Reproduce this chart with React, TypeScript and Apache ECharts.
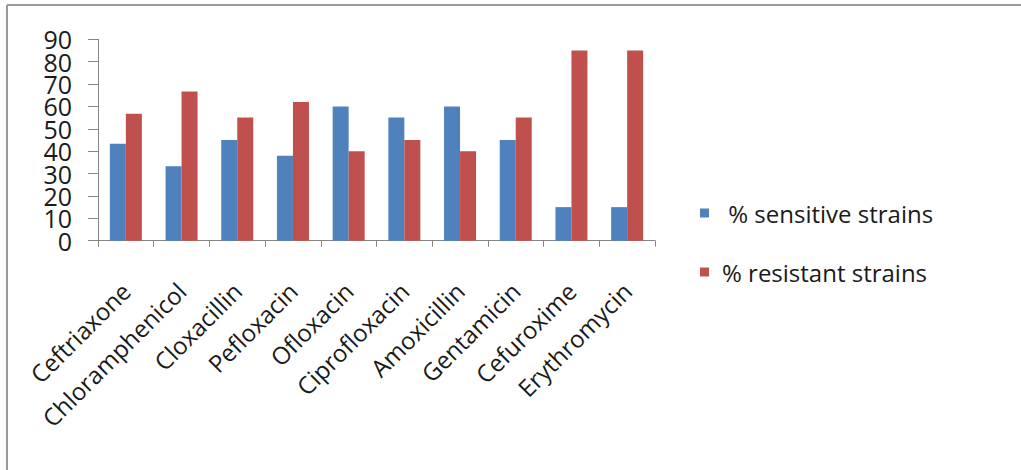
import React, { useEffect, useRef } from "react";
import * as echarts from "echarts";

const categories = [
  "Ceftriaxone",
  "Chloramphenicol",
  "Cloxacillin",
  "Pefloxacin",
  "Ofloxacin",
  "Ciprofloxacin",
  "Amoxicillin",
  "Gentamicin",
  "Cefuroxime",
  "Erythromycin",
];
const sensitive = [43.3, 33.3, 45, 38, 60, 55, 60, 45, 15, 15];
const resistant = [56.7, 66.7, 55, 62, 40, 45, 40, 55, 85, 85];
const seriesNames = ["% sensitive strains", "% resistant strains"];
const yMin = 0;
const yMax = 90;
const yStep = 10;

export default function App() {
  const ref = useRef<HTMLDivElement>(null);
  useEffect(() => {
    if (!ref.current) return;
    const chart = echarts.init(ref.current, null, { renderer: "svg" });
    const font = "Open Sans";
    const yLabelBase = {
      margin: 26,
      fontFamily: font,
      fontSize: 25,
      lineHeight: 18,
      color: "#1a1a1a",
      showMinLabel: true,
      showMaxLabel: true,
      hideOverlap: false,
    };
    const yAxisBase = {
      type: "value",
      position: "left",
      offset: 0,
      min: yMin,
      max: yMax,
      interval: yStep,
      splitLine: { show: false },
    };
    chart.setOption({
      animation: false,
      backgroundColor: "#ffffff",
      textStyle: { fontFamily: font },
      grid: { left: 98, right: 366, top: 39.3, bottom: 229.3, containLabel: false },
      legend: {
        orient: "vertical",
        left: 695,
        top: 196,
        icon: "rect",
        itemWidth: 9,
        itemHeight: 9,
        itemGap: 35,
        data: seriesNames,
        formatter: (n: string) => (n === seriesNames[0] ? " " + n : n),
        textStyle: {
          fontFamily: font,
          fontSize: 24,
          color: "#1a1a1a",
          lineHeight: 22,
          padding: [0, 0, 0, 8],
        },
      },
      xAxis: {
        type: "category",
        data: categories,
        axisLine: { show: true, lineStyle: { color: "#868686", width: 1 } },
        axisTick: { show: true, length: 6, lineStyle: { color: "#868686" } },
        axisLabel: {
          rotate: 45,
          margin: 46,
          interval: 0,
          fontFamily: font,
          fontSize: 24,
          lineHeight: 20,
          color: "#1a1a1a",
        },
      },
      yAxis: [
        {
          ...yAxisBase,
          axisLine: { show: true, lineStyle: { color: "#868686", width: 1 } },
          axisTick: { show: true, length: 10, lineStyle: { color: "#868686", width: 1 } },
          axisLabel: {
            ...yLabelBase,
            formatter: (v: number) => (Math.round(v / yStep) % 2 === 0 ? String(v) : ""),
          },
        },
        {
          ...yAxisBase,
          axisLine: { show: false },
          axisTick: { show: false },
          axisLabel: {
            ...yLabelBase,
            formatter: (v: number) => (Math.round(v / yStep) % 2 === 1 ? String(v) : ""),
          },
        },
      ],
      series: [
        {
          name: seriesNames[0],
          type: "bar",
          data: sensitive,
          barWidth: 16,
          barGap: "0%",
          itemStyle: { color: "#4F81BD" },
        },
        {
          name: seriesNames[1],
          type: "bar",
          data: resistant,
          barWidth: 16,
          barGap: "0%",
          itemStyle: { color: "#C0504D" },
        },
      ],
      graphic: [
        {
          type: "line",
          shape: { x1: 7, y1: 5, x2: 1021, y2: 5 },
          style: { stroke: "#9a9a9a", lineWidth: 2 },
        },
        {
          type: "line",
          shape: { x1: 7, y1: 5, x2: 7, y2: 470 },
          style: { stroke: "#9a9a9a", lineWidth: 2 },
        },
      ],
    });
    return () => chart.dispose();
  }, []);
  return (
    <div
      ref={ref}
      style={{ position: "fixed", left: 0, top: 0, width: 1021, height: 470 }}
    />
  );
}
